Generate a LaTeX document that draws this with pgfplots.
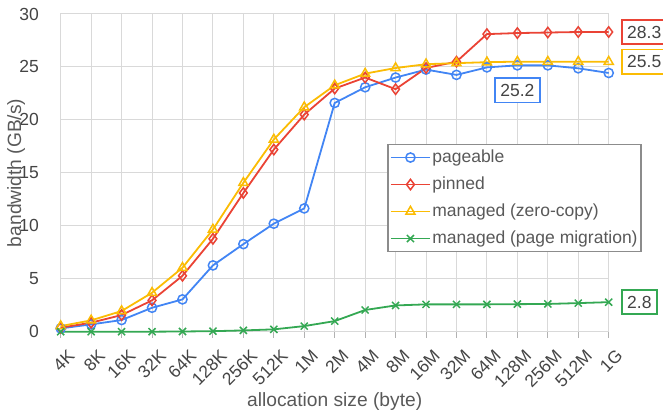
\documentclass[border=0pt]{standalone}
\usepackage{pgfplots}
\pgfplotsset{compat=1.18}
\usepackage{fontspec}
\setmainfont{Liberation Sans}
\definecolor{cblue}{HTML}{4285F4}
\definecolor{cred}{HTML}{EA4335}
\definecolor{cyel}{HTML}{FBBC04}
\definecolor{cgreen}{HTML}{34A853}
\definecolor{gridc}{HTML}{D9D9D9}
\definecolor{txt}{HTML}{444444}
\definecolor{ltxt}{HTML}{595959}
\newcommand{\fs}{\fontsize{17.5}{21}\selectfont}
\newcommand{\fl}{\fontsize{19.2}{23}\selectfont}
\begin{document}
\begin{tikzpicture}
\useasboundingbox (0,0) rectangle (663pt,414pt);
\begin{axis}[
  at={(60.7pt,82.3pt)}, anchor=south west,
  scale only axis, width=548pt, height=317.7pt,
  xmin=0, xmax=18, ymin=0, ymax=30,
  xtick={0,...,18},
  xticklabels={4K,8K,16K,32K,64K,128K,256K,512K,1M,2M,4M,8M,16M,32M,64M,128M,256M,512M,1G},
  ytick={0,5,...,30},
  /pgf/number format/assume math mode=true,
  grid=major,
  grid style={gridc, line width=1pt},
  axis line style={gridc, line width=1pt},
  x tick style={draw=gray!60, line width=1pt},
  y tick style={draw=none},
  major tick length=6pt,
  tick align=outside,
  xtick pos=bottom, ytick pos=left,
  ticklabel style={font=\fs, text=txt},
  yticklabel style={inner sep=0pt, xshift=-15.7pt},
  xticklabel style={rotate=45, anchor=north east, inner sep=0pt, xshift=-3pt, yshift=-12pt},
  xlabel={allocation size (byte)},
  ylabel={bandwidth (GB/s)},
  label style={font=\fl, text=ltxt},
  xlabel style={at={(axis description cs:0.5,0)}, anchor=base, yshift=-74.5pt},
  ylabel style={at={(axis description cs:0,0.5)}, anchor=base, yshift=39.7pt},
  legend style={at={(axis description cs:0.596,0.591)}, anchor=north west,
    draw=gray!90, line width=1.5pt, fill=white, font=\fs, text=ltxt,
    row sep=7.3pt, inner xsep=2pt, inner ysep=3pt,
    nodes={inner sep=1.5pt, text height=13pt, text depth=3.7pt}},
  legend cell align=left,
  legend image code/.code={
    \draw[mark repeat=2, mark phase=2] plot coordinates {(0pt,0pt) (19.5pt,0pt) (39pt,0pt)};
  },
  every axis plot/.append style={line width=1.8pt, mark options={solid, fill=white, line width=1.5pt}},
  clip=false,
]
\addplot[cblue, mark=o, mark size=4.6pt] coordinates {
(0,0.31) (1,0.69) (2,1.10) (3,2.26) (4,3.05) (5,6.26) (6,8.27) (7,10.2) (8,11.64) (9,21.6)
(10,23.08) (11,24.0) (12,24.75) (13,24.25) (14,24.96) (15,25.15) (16,25.15) (17,24.87) (18,24.43)};
\addlegendentry{pageable}
\addplot[cred, mark=diamond, mark size=5.2pt] coordinates {
(0,0.38) (1,0.85) (2,1.57) (3,2.96) (4,5.28) (5,8.77) (6,13.1) (7,17.2) (8,20.5) (9,22.96)
(10,24.0) (11,22.9) (12,24.9) (13,25.5) (14,28.1) (15,28.2) (16,28.25) (17,28.3) (18,28.3)};
\addlegendentry{pinned}
\addplot[cyel, mark=triangle, mark size=5.2pt] coordinates {
(0,0.53) (1,1.07) (2,1.95) (3,3.68) (4,6.04) (5,9.65) (6,14.06) (7,18.15) (8,21.2) (9,23.27)
(10,24.37) (11,24.9) (12,25.26) (13,25.36) (14,25.45) (15,25.5) (16,25.5) (17,25.5) (18,25.5)};
\addlegendentry{managed (zero-copy)}
\addplot[cgreen, mark=x, mark size=5pt] coordinates {
(0,0.0) (1,0.0) (2,0.0) (3,0.0) (4,0.02) (5,0.05) (6,0.12) (7,0.22) (8,0.53) (9,1.0)
(10,2.05) (11,2.48) (12,2.58) (13,2.58) (14,2.58) (15,2.6) (16,2.62) (17,2.7) (18,2.79)};
\addlegendentry{managed (page migration)}
\begin{scope}[every node/.style={font=\fs, text=txt, line width=1.7pt, inner xsep=5.5pt, inner ysep=5.9pt, text height=12.5pt, text depth=0pt, fill=white}]
\node[draw=cred, anchor=west, xshift=12.15pt] at (axis cs:18,28.3) {28.3};
\node[draw=cyel, anchor=west, xshift=12.15pt] at (axis cs:18,25.5) {25.5};
\node[draw=cgreen, anchor=west, xshift=12.15pt] at (axis cs:18,2.8) {2.8};
\node[draw=cblue, anchor=north, yshift=-12.45pt] at (axis cs:15,25.2) {25.2};
\end{scope}
\end{axis}
\end{tikzpicture}
\end{document}
